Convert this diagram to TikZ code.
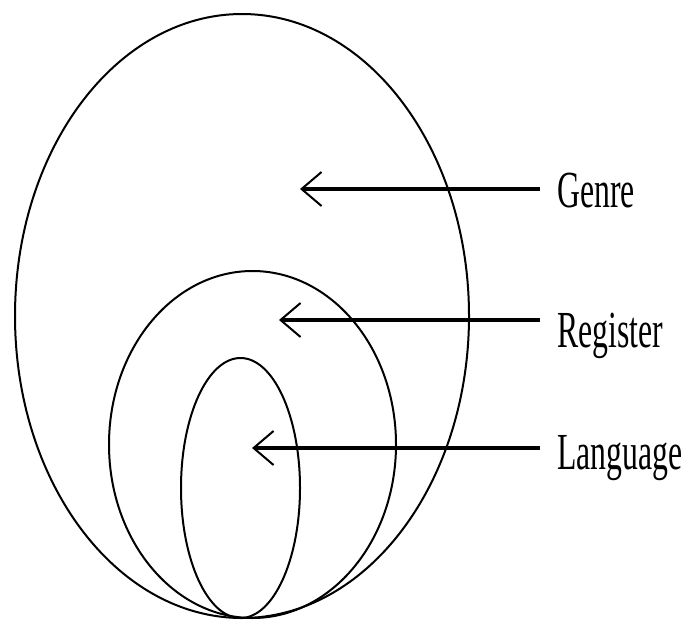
\documentclass[tikz,border=0pt]{standalone}
\usepackage{fontspec}
\setmainfont{Liberation Serif}
\usetikzlibrary{arrows.meta}

\newcommand{\lbltext}[1]{\scalebox{0.61}[1]{#1}}

\begin{document}
\begin{tikzpicture}[
                x=1pt, y=-1pt,
                >={Straight Barb[length=20pt, width=34pt, line width=2pt]},
                ring/.style ={draw, line width=2pt},
                arr/.style  ={->, line width=3.2pt},
                lbl/.style  ={anchor=base west, inner xsep=17pt, inner ysep=0pt,
                        font=\fontsize{52}{60}\selectfont}
            ]
            \fill[white] (0,0) rectangle (684,621);
            \useasboundingbox (0,0) rectangle (684,621);

            %% ---- nested ellipses, all touching at the bottom -------------------
            \draw[ring] (242,316) ellipse [x radius=227pt, y radius=302pt];
            \draw[ring] (252.5,444.5) ellipse [x radius=143.5pt, y radius=173.5pt];
            \draw[ring] (240.5,488) ellipse [x radius=59.5pt, y radius=130pt];

            %% ---- labels on the right -----------------------------------------
            \node[lbl] (genre) at (540,207) {\lbltext{Genre}};
            \node[lbl] (reg)   at (540,347) {\lbltext{Register}};
            \node[lbl] (lang)  at (540,469) {\lbltext{Language}};

            %% ---- arrow tips inside the ellipses ------------------------------
            \coordinate (gtip) at (300,189);
            \coordinate (rtip) at (279,320);
            \coordinate (ltip) at (252,448);

            \draw[arr] (genre.west |- gtip) -- (gtip);
            \draw[arr] (reg.west |- rtip) -- (rtip);
            \draw[arr] (lang.west |- ltip) -- (ltip);

\end{tikzpicture}
\end{document}
